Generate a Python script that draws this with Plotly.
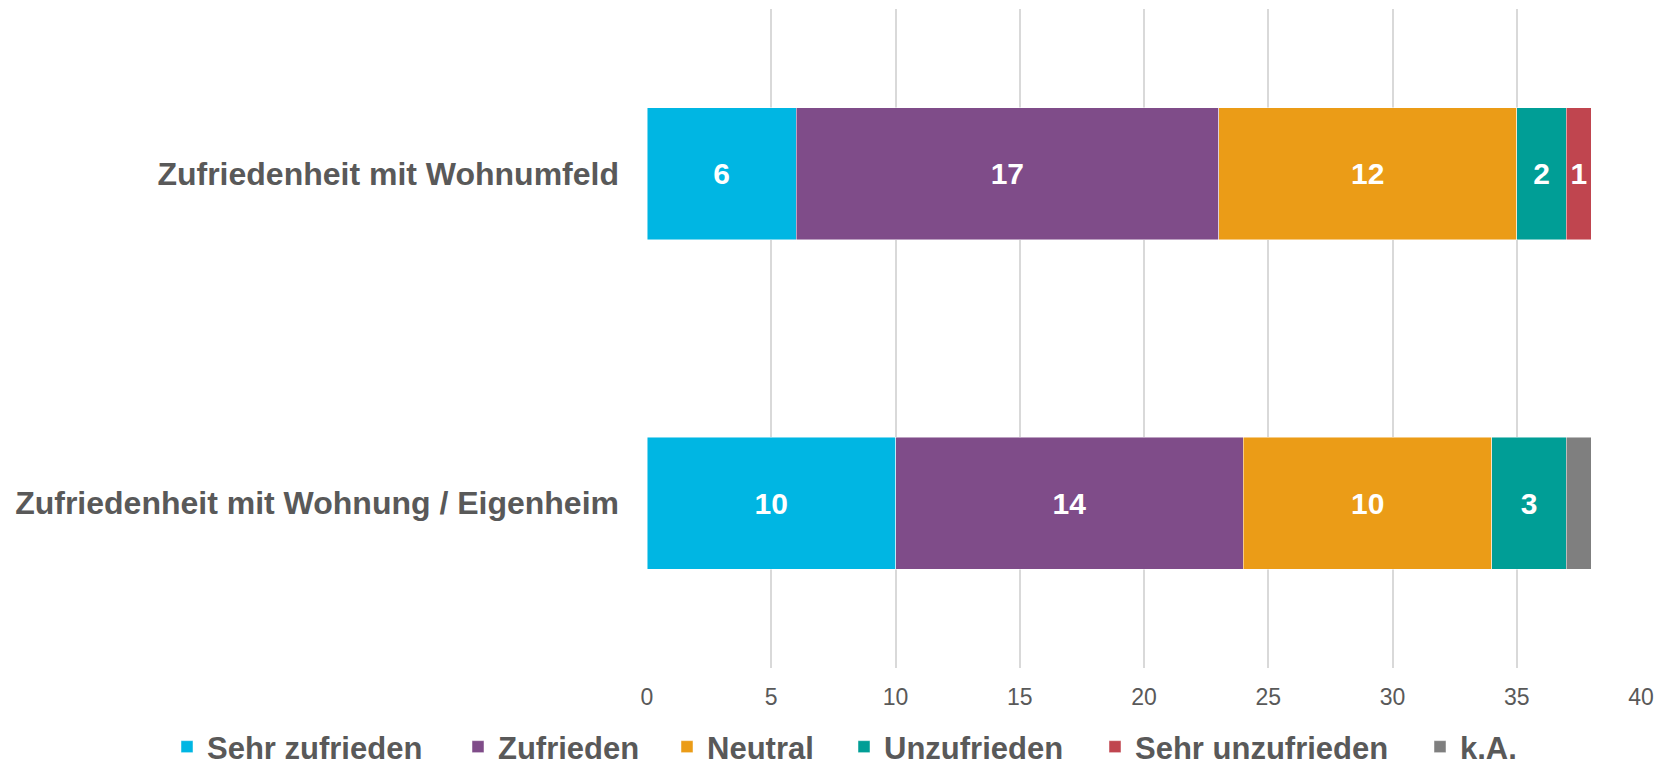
import plotly.graph_objects as go

categories = ["Zufriedenheit mit Wohnung / Eigenheim", "Zufriedenheit mit Wohnumfeld"]
series_names = ["Sehr zufrieden", "Zufrieden", "Neutral", "Unzufrieden", "Sehr unzufrieden", "k.A."]
sehr_zufrieden = [10, 6]
zufrieden = [14, 17]
neutral = [10, 12]
unzufrieden = [3, 2]
sehr_unzufrieden = [0, 1]
ka = [1, 0]
show_labels = [True, True, True, True, True, False]
colors = ["#00B6E3", "#7F4C89", "#EB9C17", "#009E96", "#C0454F", "#7F7F7F"]
x_ticks = [0, 5, 10, 15, 20, 25, 30, 35, 40]

series_values = [sehr_zufrieden, zufrieden, neutral, unzufrieden, sehr_unzufrieden, ka]

# page layout (the page body has an 8px margin)
W, H = 1665, 758
OFF = 8
legend_centers_page = [187, 478, 687, 864, 1115, 1440]
legend_y_page = 747

FONT = "Liberation Sans, Arial, sans-serif"
TEXT_COLOR = "#595959"

fig = go.Figure()
legend_keys = ["legend"] + [f"legend{i}" for i in range(2, len(series_names) + 1)]
for i, (name, vals, col, show) in enumerate(zip(series_names, series_values, colors, show_labels)):
    texts = [str(v) if (show and v > 0) else "" for v in vals]
    fig.add_trace(go.Bar(
        name=name,
        y=categories,
        x=vals,
        orientation="h",
        marker=dict(color=col, line=dict(color="rgba(255,255,255,0.6)", width=0.8)),
        text=texts,
        textposition="inside",
        insidetextanchor="middle",
        textangle=0,
        constraintext="none",
        textfont=dict(family=FONT, size=30, color="white", weight="bold"),
        hoverinfo="x+y+name",
        legend=legend_keys[i],
    ))

legend_layouts = {}
for i, key in enumerate(legend_keys):
    legend_layouts[key] = dict(
        orientation="h",
        xref="container", yref="container",
        x=(legend_centers_page[i] - 20 - OFF) / W, xanchor="left",
        y=1 - (legend_y_page - OFF) / H, yanchor="middle",
        font=dict(family=FONT, size=31, color=TEXT_COLOR, weight="bold"),
        itemwidth=30,
        bgcolor="rgba(0,0,0,0)",
        borderwidth=0,
    )

fig.update_layout(
    barmode="stack",
    bargap=0.6,
    width=W,
    height=H,
    margin=dict(l=647 - OFF, r=32, t=9 - OFF, b=H - (668 - OFF)),
    paper_bgcolor="white",
    plot_bgcolor="white",
    font=dict(family=FONT, color=TEXT_COLOR),
    showlegend=True,
    **legend_layouts,
)

fig.update_xaxes(
    range=[0, 40],
    tickvals=x_ticks,
    ticktext=[str(t) for t in x_ticks],
    showgrid=True,
    gridcolor="#D9D9D9",
    gridwidth=1.5,
    zeroline=False,
    showline=False,
    tickfont=dict(family=FONT, size=23, color=TEXT_COLOR),
    ticks="",
    ticklabelstandoff=13,
)
fig.update_yaxes(
    categoryorder="array",
    categoryarray=categories,
    showgrid=False,
    zeroline=False,
    showline=False,
    ticks="",
    tickfont=dict(family=FONT, size=32, color=TEXT_COLOR, weight="bold"),
    ticklabelstandoff=27,
)

fig.write_html("out.html")
